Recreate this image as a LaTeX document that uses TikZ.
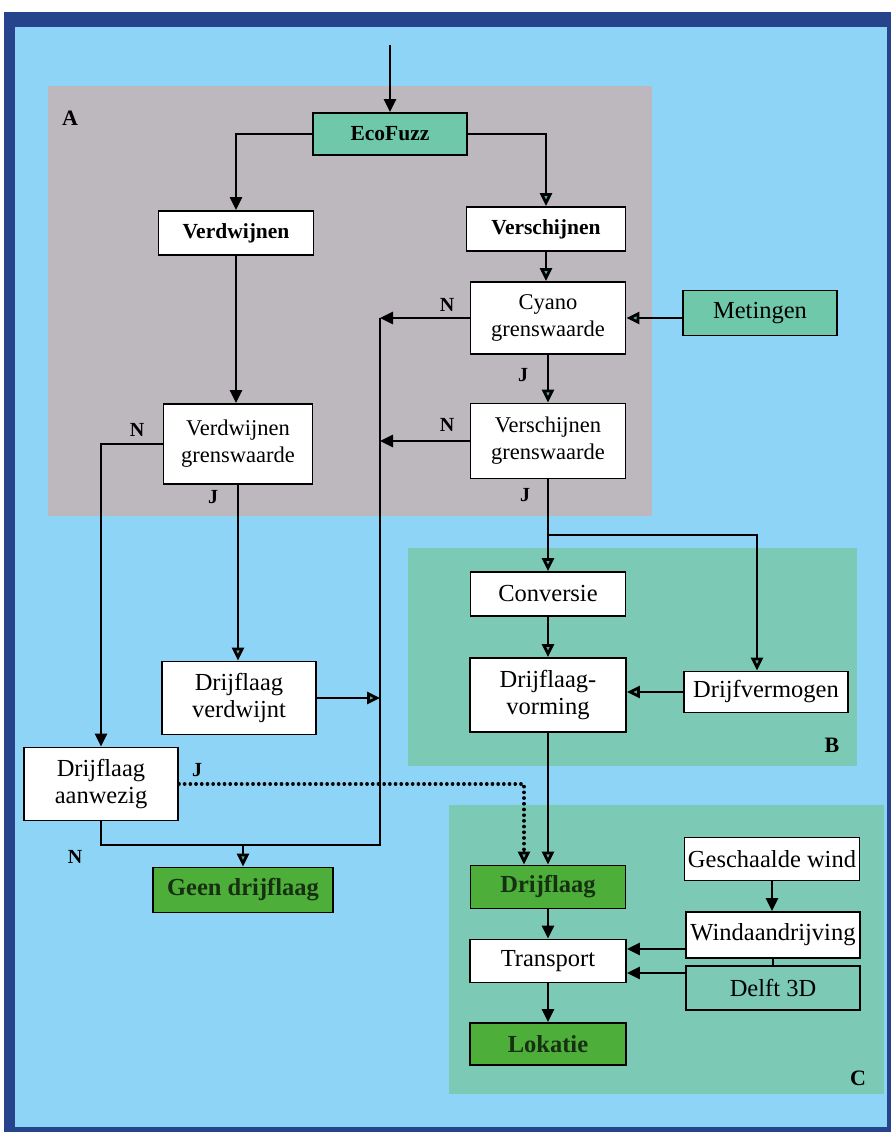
\documentclass[tikz,border=0pt]{standalone}
\usepackage{fontspec}
\setmainfont{Liberation Serif}
\usetikzlibrary{arrows.meta}
\usetikzlibrary{calc}

\definecolor{hemel}{RGB}{142,212,246}
\definecolor{kader}{RGB}{38,68,140}
\definecolor{grijs}{RGB}{189,184,189}
\definecolor{zeegroen}{RGB}{124,201,181}
\definecolor{tealvak}{RGB}{112,200,170}
\definecolor{groenvak}{RGB}{78,174,58}
\definecolor{donkergroen}{RGB}{22,48,18}
\definecolor{pijlkop}{RGB}{90,170,160}

\begin{document}
\begin{tikzpicture}[x=1pt, y=-1pt,
    vak/.style={draw=black, line width=1.8pt, fill=white, inner sep=0pt, align=center,
        font=\fontsize{24.5}{27}\selectfont},
    vakgrens/.style={vak, font=\fontsize{22.5}{27}\selectfont},
    vakvet/.style={vak, font=\fontsize{21.5}{26}\selectfont\bfseries},
    vakteal/.style={vak, fill=tealvak},
    vakgroen/.style={vak, fill=groenvak, text=donkergroen, font=\fontsize{24.5}{27}\selectfont\bfseries},
    lijn/.style={black, line width=2.8pt},
    pijl/.style={lijn, -{Triangle[length=13pt, width=12pt]}},
    pijlo/.style={lijn, -{Triangle[length=13pt, width=12pt, fill=pijlkop]}},
    stip/.style={lijn, line width=3.6pt, dash pattern=on 0.1pt off 5.6pt, line cap=round},
    letter/.style={font=\fontsize{20}{24}\selectfont\bfseries},
    gebied/.style={font=\fontsize{22}{26}\selectfont\bfseries}]
                \useasboundingbox (0,0) rectangle (891,1132);
                \fill[white] (0,0) rectangle (891,1132);
                \fill[kader] (4,12) rectangle (891,1132);
                \fill[hemel] (15,27) rectangle (887,1127);
                \fill[grijs] (48,86) rectangle (652,516);
                \fill[zeegroen] (408,548) rectangle (857,766);
                \fill[zeegroen] (449,805) rectangle (884,1094);
                \node[gebied] (A) at (70,118) {A};
                \node[gebied] (B) at (832,745) {B};
                \node[gebied] (C) at (858,1078) {C};

                \node[vakteal, font=\fontsize{21.5}{26}\selectfont\bfseries, minimum width=154pt, minimum height=42pt] (eco) at (390,134) {EcoFuzz};
                \node[vakvet, minimum width=155pt, minimum height=44pt] (verdw) at (236,233) {Verdwijnen};
                \node[vakvet, minimum width=159pt, minimum height=44pt] (versch) at (546,229) {Verschijnen};
                \node[vakgrens, minimum width=155pt, minimum height=72pt] (cyano) at (548,318) {Cyano\\grenswaarde};
                \node[vakteal, minimum width=154pt, minimum height=45pt] (meting) at (760,313) {Metingen};
                \node[vakgrens, minimum width=149pt, minimum height=80pt] (verdwg) at (238,444) {Verdwijnen\\grenswaarde};
                \node[vakgrens, minimum width=155pt, minimum height=75pt] (verschg) at (548,441) {Verschijnen\\grenswaarde};
                \node[vak, minimum width=155pt, minimum height=44pt] (conv) at (548,594) {Conversie};
                \node[vak, minimum width=156pt, minimum height=74pt] (vorm) at (548,695) {Drijflaag-\\vorming};
                \node[vak, minimum width=164pt, minimum height=41pt] (vermog) at (766,692) {Drijfvermogen};
                \node[vak, minimum width=154pt, minimum height=73pt] (verdwijnt) at (239,698) {Drijflaag\\verdwijnt};
                \node[vak, minimum width=154pt, minimum height=73pt] (aanw) at (101,784) {Drijflaag\\aanwezig};
                \node[vakgroen, minimum width=180pt, minimum height=45pt] (geen) at (243,890) {Geen drijflaag};
                \node[vakgroen, minimum width=155pt, minimum height=43pt] (drijf) at (548,887) {Drijflaag};
                \node[vak, minimum width=156pt, minimum height=43pt] (transp) at (548,961) {Transport};
                \node[vakgroen, minimum width=156pt, minimum height=42pt] (lok) at (548,1044) {Lokatie};
                \node[vak, minimum width=175pt, minimum height=43pt] (wind) at (772,859) {Geschaalde wind};
                \node[vak, minimum width=174pt, minimum height=46pt] (windaan) at (773,935) {Windaandrijving};
                \node[vak, fill=zeegroen, minimum width=174pt, minimum height=44pt] (delft) at (773,988) {Delft 3D};

                \coordinate (start) at (390,45);
                \coordinate (busboven) at (380,318);
                \coordinate (busonder) at (380,845);
                \coordinate (splits) at (548,535);

                \draw[pijl] (start) -- (eco.north);
                \draw[pijl] (eco.west) -| (verdw.north);
                \draw[pijlo] (eco.east) -| (versch.north);
                \draw[pijlo] (versch.south) -- (versch.south |- cyano.north);
                \draw[pijlo] (meting.west |- cyano.east) -- (cyano.east);
                \draw[pijl] (cyano.west) -- (cyano.west -| busboven);
                \draw[pijlo] (cyano.south) -- (verschg.north);
                \draw[pijl] (verdw.south) -- (verdw.south |- verdwg.north);
                \draw[pijl] (verschg.west) -- (verschg.west -| busboven);
                \draw[pijl] (verdwg.west) -| (aanw.north);
                \draw[pijlo] (verdwg.south) -- (verdwg.south |- verdwijnt.north);
                \draw[pijlo] (verdwijnt.east) -- (verdwijnt.east -| busboven);
                \draw[lijn] (busboven) -- (busonder) -- (busonder -| aanw.south) -- (aanw.south);
                \draw[pijlo] (busonder -| geen.north) -- (geen.north);
                \draw[lijn] (verschg.south) -- (splits);
                \draw[pijlo] (splits) -- (conv.north);
                \draw[pijlo] (splits) -| ([xshift=-9pt]vermog.north);
                \draw[pijlo] (conv.south) -- (vorm.north);
                \draw[pijlo] (vermog.west) -- (vermog.west -| vorm.east);
                \draw[pijlo] (vorm.south) -- (drijf.north);
                \draw[stip] (aanw.east) -| ([xshift=-24pt, yshift=14pt]drijf.north);
                \draw[pijlo] ([xshift=-24pt, yshift=14pt]drijf.north) -- ([xshift=-24pt]drijf.north);
                \draw[pijl] (drijf.south) -- (transp.north);
                \draw[pijl] (wind.south) -- (wind.south |- windaan.north);
                \draw[lijn, line width=1.8pt] (windaan.south) -- (windaan.south |- delft.north);
                \draw[pijl] ([yshift=-14pt]windaan.west) -- ([yshift=-14pt]windaan.west -| transp.east);
                \draw[pijl] ([yshift=15pt]delft.west) -- ([yshift=15pt]delft.west -| transp.east);
                \draw[pijl] (transp.south) -- (lok.north);

                \node[letter] (n1) at (447,305) {N};
                \node[letter] (j1) at (523,375) {J};
                \node[letter] (n2) at (447,425) {N};
                \node[letter] (j2) at (525,495) {J};
                \node[letter] (n3) at (137,430) {N};
                \node[letter] (j3) at (213,497) {J};
                \node[letter] (j4) at (197,770) {J};
                \node[letter] (n4) at (75,857) {N};

            \end{tikzpicture}
\end{document}
